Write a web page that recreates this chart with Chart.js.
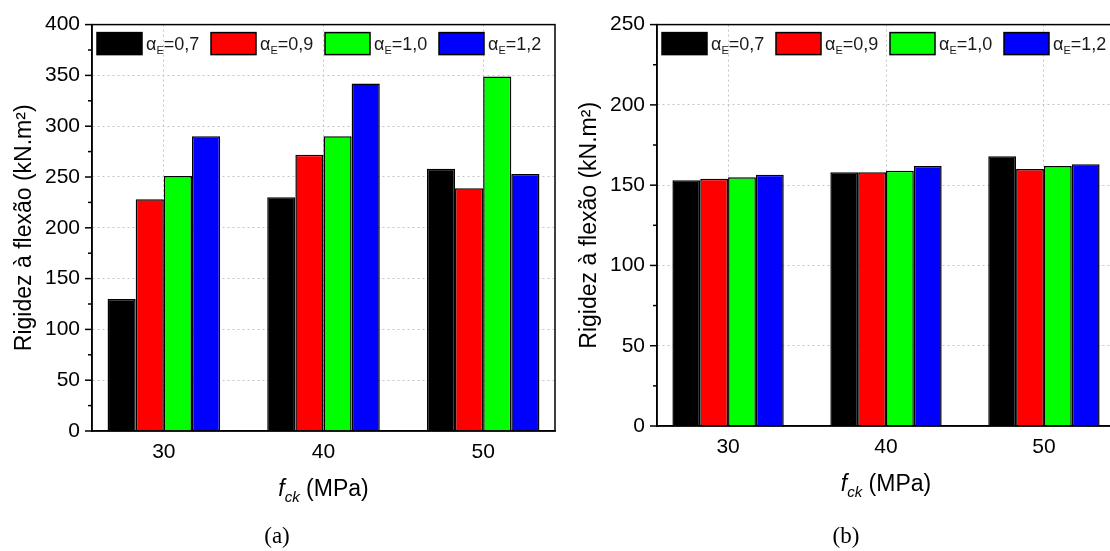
<!DOCTYPE html>
<html>
<head>
<meta charset="utf-8">
<script src="https://cdn.jsdelivr.net/npm/chart.js@4"></script>
<style>
  html, body { margin: 0; padding: 0; background: #fff; overflow: hidden; width: 1110px; height: 551px; }
  #chartA { position: absolute; left: 0; top: 0; }
  #chartB { position: absolute; left: 565px; top: 0; }
</style>
</head>
<body>
<canvas id="chartA" width="560" height="551"></canvas>
<canvas id="chartB" width="555" height="551"></canvas>
<script>
// fck categories (MPa) and alpha_E series
const fck = [30, 40, 50];
const alphaE = ['0,7', '0,9', '1,0', '1,2'];
const colors = ['#000000', '#ff0000', '#00ff00', '#0000ff'];

// (a) rigidez a flexao
const rigidezA07 = [130, 230, 258];
const rigidezA09 = [228, 272, 239];
const rigidezA10 = [251, 290, 349];
const rigidezA12 = [290, 342, 253];

// (b)
const rigidezB07 = [153, 158, 168];
const rigidezB09 = [154, 158, 160];
const rigidezB10 = [155, 159, 162];
const rigidezB12 = [156.5, 162, 163];

const yMaxA = 400, yMaxB = 250;

const FONT = "'Liberation Sans', Arial, sans-serif";
Chart.defaults.font.family = FONT;
Chart.defaults.color = '#000';

const panelDeco = {
  id: 'panelDeco',
  afterDraw(chart, args, opts) {
    const { ctx, chartArea: a, scales: { y } } = chart;
    ctx.save();
    ctx.strokeStyle = '#000';
    ctx.lineWidth = 1.5;

    // y ticks, major every 50, minor every 25
    for (let v = y.min; v <= y.max; v += 25) {
      const py = y.getPixelForValue(v);
      const len = v % 50 === 0 ? 7 : 4;
      ctx.beginPath();
      ctx.moveTo(a.left - len, py);
      ctx.lineTo(a.left, py);
      ctx.stroke();
    }
    ctx.strokeRect(a.left, a.top, a.right - a.left, a.bottom - a.top);

    // legend
    ctx.textBaseline = 'alphabetic';
    ctx.textAlign = 'left';
    chart.data.datasets.forEach((ds, i) => {
      const sx = a.left + 5 + i * 114, sy = a.top + 8;
      ctx.fillStyle = ds.backgroundColor;
      ctx.fillRect(sx, sy, 45, 22);
      ctx.lineWidth = 1.5;
      ctx.strokeRect(sx, sy, 45, 22);
      const base = sy + 17;
      let x = sx + 49;
      ctx.fillStyle = '#1a1a1a';
      ctx.font = '18px ' + FONT;
      ctx.fillText('α', x, base);
      x += ctx.measureText('α').width;
      ctx.font = '11px ' + FONT;
      ctx.fillText('E', x, base + 4);
      x += ctx.measureText('E').width;
      ctx.font = '18px ' + FONT;
      ctx.fillText('=' + alphaE[i], x, base);
    });

    // x title: f_ck (MPa)
    const parts = [
      { t: 'f', f: 'italic 23px ' + FONT, dy: 0 },
      { t: 'ck', f: 'italic 15px ' + FONT, dy: 6 },
      { t: ' (MPa)', f: '23px ' + FONT, dy: 0 }
    ];
    let total = 0;
    parts.forEach(p => { ctx.font = p.f; p.w = ctx.measureText(p.t).width; total += p.w; });
    let tx = (a.left + a.right) / 2 - total / 2;
    const tb = a.bottom + 65;
    ctx.fillStyle = '#000';
    parts.forEach(p => { ctx.font = p.f; ctx.fillText(p.t, tx, tb + p.dy); tx += p.w; });

    // panel tag
    ctx.font = "23px 'Liberation Serif', 'Times New Roman', serif";
    ctx.textAlign = 'center';
    ctx.fillText(opts.tag, opts.tagX, 543);
    ctx.restore();
  }
};

function makeChart(id, series, yMax, tag, tagX, xAxisH) {
  return new Chart(document.getElementById(id), {
    type: 'bar',
    data: {
      datasets: series.map((vals, i) => ({
        label: 'αE=' + alphaE[i],
        data: fck.map((x, j) => ({ x: x, y: vals[j] })),
        backgroundColor: colors[i],
        borderColor: '#000',
        borderWidth: 1.5,
        borderSkipped: 'bottom',
        barPercentage: 1,
        categoryPercentage: 0.705
      }))
    },
    options: {
      responsive: false,
      animation: false,
      layout: { padding: { top: 23, right: 5, left: 0, bottom: 0 } },
      plugins: {
        legend: { display: false },
        tooltip: { enabled: false },
        panelDeco: { tag: tag, tagX: tagX }
      },
      scales: {
        x: {
          type: 'linear', min: 25.5, max: 54.5, offset: false,
          afterFit: s => { s.height = xAxisH; },
          ticks: { stepSize: 10, includeBounds: false, padding: 9, color: '#000', font: { size: 21 } },
          grid: { color: '#c4c4c4', drawTicks: false, offset: false },
          border: { color: '#000', width: 1.5, dash: [2, 3] }
        },
        y: {
          min: 0, max: yMax,
          afterFit: s => { s.width = 92; },
          ticks: { stepSize: 50, padding: 12, color: '#000', font: { size: 21 } },
          grid: { color: '#c4c4c4', drawTicks: false },
          border: { color: '#000', width: 1.5, dash: [2, 3] },
          title: { display: true, text: 'Rigidez à flexão (kN.m²)', color: '#000', font: { size: 23 }, padding: { top: 11, bottom: 0 } }
        }
      }
    },
    plugins: [panelDeco]
  });
}

makeChart('chartA', [rigidezA07, rigidezA09, rigidezA10, rigidezA12], yMaxA, '(a)', 277, 120);
makeChart('chartB', [rigidezB07, rigidezB09, rigidezB10, rigidezB12], yMaxB, '(b)', 281, 125);
</script>
</body>
</html>
